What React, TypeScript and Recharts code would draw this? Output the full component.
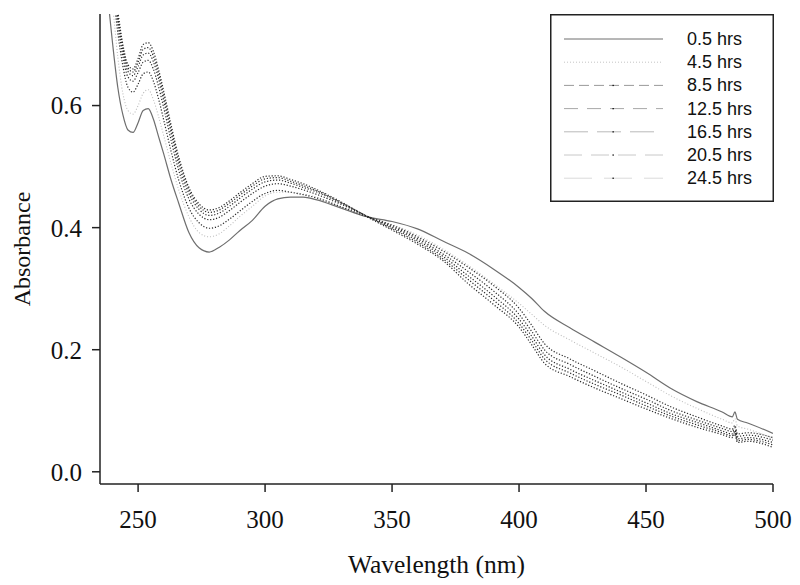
import React from 'react';
import { LineChart, Line, XAxis, YAxis } from 'recharts';

const wavelengths = [
  238, 240, 242, 244, 246, 248, 250, 252, 254, 256,
  258, 260, 263, 266, 270, 274, 278, 282, 286, 290,
  295, 300, 305, 310, 315, 320, 330, 340, 350, 360,
  370, 380, 390, 400, 405, 410, 420, 430, 440, 450,
  460, 470, 480, 484, 485, 486, 490, 500,
];

const hrs0_5 = [
  0.78, 0.70, 0.63, 0.585, 0.560, 0.556, 0.572, 0.592, 0.595, 0.578,
  0.550, 0.522, 0.478, 0.440, 0.392, 0.367, 0.360, 0.368, 0.380, 0.395,
  0.412, 0.435, 0.447, 0.450, 0.450, 0.446, 0.432, 0.418, 0.410, 0.398,
  0.378, 0.358, 0.332, 0.302, 0.284, 0.263, 0.236, 0.212, 0.188, 0.163,
  0.136, 0.115, 0.098, 0.090, 0.098, 0.086, 0.080, 0.063,
];
const hrs4_5 = [
  0.80, 0.76, 0.68, 0.62, 0.592, 0.586, 0.600, 0.620, 0.626, 0.610,
  0.583, 0.552, 0.505, 0.462, 0.418, 0.392, 0.385, 0.390, 0.403, 0.418,
  0.435, 0.452, 0.458, 0.458, 0.455, 0.450, 0.434, 0.418, 0.405, 0.388,
  0.365, 0.338, 0.308, 0.276, 0.258, 0.240, 0.216, 0.194, 0.172, 0.148,
  0.124, 0.104, 0.086, 0.080, 0.087, 0.075, 0.070, 0.055,
];
const hrs8_5 = [
  0.85, 0.79, 0.72, 0.665, 0.630, 0.622, 0.635, 0.652, 0.655, 0.640,
  0.612, 0.578, 0.525, 0.478, 0.432, 0.408, 0.399, 0.403, 0.414, 0.427,
  0.443, 0.456, 0.461, 0.458, 0.454, 0.449, 0.434, 0.418, 0.404, 0.385,
  0.362, 0.335, 0.305, 0.268, 0.240, 0.210, 0.185, 0.165, 0.145, 0.126,
  0.106, 0.090, 0.075, 0.070, 0.076, 0.062, 0.064, 0.056,
];
const hrs12_5 = [
  0.86, 0.80, 0.735, 0.68, 0.647, 0.640, 0.654, 0.671, 0.674, 0.660,
  0.632, 0.598, 0.543, 0.494, 0.447, 0.422, 0.413, 0.417, 0.428, 0.441,
  0.456, 0.468, 0.472, 0.468, 0.462, 0.455, 0.438, 0.419, 0.402, 0.382,
  0.357, 0.328, 0.296, 0.258, 0.230, 0.200, 0.176, 0.156, 0.137, 0.119,
  0.100, 0.085, 0.071, 0.066, 0.072, 0.058, 0.060, 0.052,
];
const hrs16_5 = [
  0.87, 0.81, 0.745, 0.69, 0.656, 0.649, 0.664, 0.683, 0.686, 0.672,
  0.645, 0.610, 0.555, 0.504, 0.456, 0.430, 0.420, 0.424, 0.435, 0.448,
  0.463, 0.475, 0.478, 0.473, 0.466, 0.459, 0.440, 0.419, 0.400, 0.379,
  0.353, 0.321, 0.288, 0.250, 0.222, 0.192, 0.168, 0.149, 0.131, 0.113,
  0.095, 0.081, 0.067, 0.062, 0.068, 0.054, 0.056, 0.048,
];
const hrs20_5 = [
  0.88, 0.82, 0.75, 0.695, 0.662, 0.655, 0.671, 0.692, 0.695, 0.681,
  0.653, 0.618, 0.562, 0.511, 0.462, 0.435, 0.425, 0.429, 0.440, 0.453,
  0.468, 0.480, 0.482, 0.476, 0.469, 0.461, 0.441, 0.419, 0.398, 0.376,
  0.349, 0.315, 0.281, 0.243, 0.215, 0.185, 0.162, 0.143, 0.126, 0.108,
  0.091, 0.077, 0.064, 0.059, 0.065, 0.051, 0.053, 0.044,
];
const hrs24_5 = [
  0.89, 0.82, 0.755, 0.70, 0.667, 0.660, 0.677, 0.700, 0.703, 0.689,
  0.660, 0.625, 0.568, 0.516, 0.466, 0.439, 0.429, 0.433, 0.444, 0.457,
  0.472, 0.484, 0.485, 0.479, 0.472, 0.463, 0.442, 0.418, 0.396, 0.373,
  0.346, 0.308, 0.274, 0.237, 0.208, 0.178, 0.156, 0.137, 0.120, 0.103,
  0.087, 0.073, 0.061, 0.056, 0.062, 0.048, 0.050, 0.040,
];

const seriesNames = ['0.5 hrs', '4.5 hrs', '8.5 hrs', '12.5 hrs', '16.5 hrs', '20.5 hrs', '24.5 hrs'];
const seriesValues = [hrs0_5, hrs4_5, hrs8_5, hrs12_5, hrs16_5, hrs20_5, hrs24_5];
const xTicks = [250, 300, 350, 400, 450, 500];
const yTicks = [0, 0.2, 0.4, 0.6];

// how each curve looks in the plot (dense black point markers read as dots)
const plotStyles = [
  { stroke: '#6e6e6e', dash: undefined, width: 1.2 },
  { stroke: '#bdbdbd', dash: '1 2', width: 1.1 },
  { stroke: '#2a2a2a', dash: '1.2 1.8', width: 1.2 },
  { stroke: '#2a2a2a', dash: '1.2 1.8', width: 1.2 },
  { stroke: '#2a2a2a', dash: '1.2 1.8', width: 1.2 },
  { stroke: '#2a2a2a', dash: '1.2 1.8', width: 1.2 },
  { stroke: '#2a2a2a', dash: '1.2 1.8', width: 1.2 },
];
// how each line sample looks in the legend
const legendStyles = [
  { stroke: '#6e6e6e', dash: undefined, dot: false },
  { stroke: '#c4c4c4', dash: '1 2', dot: false },
  { stroke: '#9a9a9a', dash: '10 5', dot: true },
  { stroke: '#a8a8a8', dash: '14 9', dot: true },
  { stroke: '#bababa', dash: '24 9', dot: true },
  { stroke: '#c8c8c8', dash: '18 9', dot: true },
  { stroke: '#dadada', dash: '28 12', dot: true },
];

const chartData = wavelengths.map((wl, i) => {
  const row: Record<string, number> = { wl };
  seriesNames.forEach((name, s) => {
    row[name] = seriesValues[s][i];
  });
  return row;
});

const serif = "'Liberation Serif', 'Times New Roman', Times, serif";
const sans = "'Liberation Sans', Arial, sans-serif";
const tickStyle = { fontSize: 25, fontFamily: serif, fill: '#111' };

function LegendBox() {
  return (
    <svg
      width={224}
      height={188}
      style={{ position: 'absolute', left: 550, top: 14 }}
    >
      <rect x={0.75} y={0.75} width={222.5} height={186.5} fill="#fff" stroke="#222" strokeWidth={1.5} />
      {seriesNames.map((name, i) => {
        const y = 25 + i * 23.2;
        const st = legendStyles[i];
        return (
          <g key={name}>
            <line x1={14} x2={113} y1={y} y2={y} stroke={st.stroke} strokeWidth={1} strokeDasharray={st.dash} />
            {st.dot && <rect x={62.5} y={y - 0.6} width={1.3} height={1.3} fill="#000" />}
            <text x={137} y={y + 6} fontSize={18} style={{ fontFamily: sans }} fill="#111">
              {name}
            </text>
          </g>
        );
      })}
    </svg>
  );
}

export default function App() {
  return (
    <div style={{ position: 'absolute', left: 0, top: 0, width: 800, height: 585, background: '#fff', fontFamily: serif }}>
      <LineChart width={800} height={585} data={chartData} margin={{ top: 14, right: 27, left: 0, bottom: 0 }} style={{ fontFamily: serif }}>
        <XAxis
          dataKey="wl"
          type="number"
          domain={[235, 500]}
          allowDataOverflow
          ticks={xTicks}
          tick={tickStyle}
          tickSize={8}
          tickMargin={18}
          height={101}
          axisLine={{ stroke: '#222', strokeWidth: 1.5 }}
          tickLine={{ stroke: '#222', strokeWidth: 1.5 }}
          label={{ value: 'Wavelength (nm)', position: 'insideBottom', offset: 12, style: { fontSize: 25.5, fontFamily: serif, fill: '#111' } }}
        />
        <XAxis
          xAxisId="top"
          orientation="top"
          dataKey="wl"
          type="number"
          domain={[235, 500]}
          allowDataOverflow
          height={0}
          tick={false}
          tickLine={false}
          axisLine={{ stroke: '#222', strokeWidth: 1.5 }}
        />
        <YAxis
          type="number"
          domain={[-0.02, 0.75]}
          allowDataOverflow
          ticks={yTicks}
          tickFormatter={(v: number) => v.toFixed(1)}
          tick={tickStyle}
          tickSize={8}
          tickMargin={10}
          width={100}
          axisLine={{ stroke: '#222', strokeWidth: 1.5 }}
          tickLine={{ stroke: '#222', strokeWidth: 1.5 }}
          label={{ value: 'Absorbance', angle: -90, position: 'insideLeft', offset: 21, style: { textAnchor: 'middle', fontSize: 24, fontFamily: serif, fill: '#111' } }}
        />
        <YAxis
          yAxisId="right"
          orientation="right"
          type="number"
          domain={[-0.02, 0.75]}
          width={0}
          tick={false}
          tickLine={false}
          axisLine={{ stroke: '#222', strokeWidth: 1.5 }}
        />
        {seriesNames.map((name, i) => (
          <Line
            key={name}
            dataKey={name}
            type="monotone"
            stroke={plotStyles[i].stroke}
            strokeWidth={plotStyles[i].width}
            strokeDasharray={plotStyles[i].dash}
            dot={false}
            activeDot={false}
            isAnimationActive={false}
          />
        ))}
      </LineChart>
      <LegendBox />
    </div>
  );
}
